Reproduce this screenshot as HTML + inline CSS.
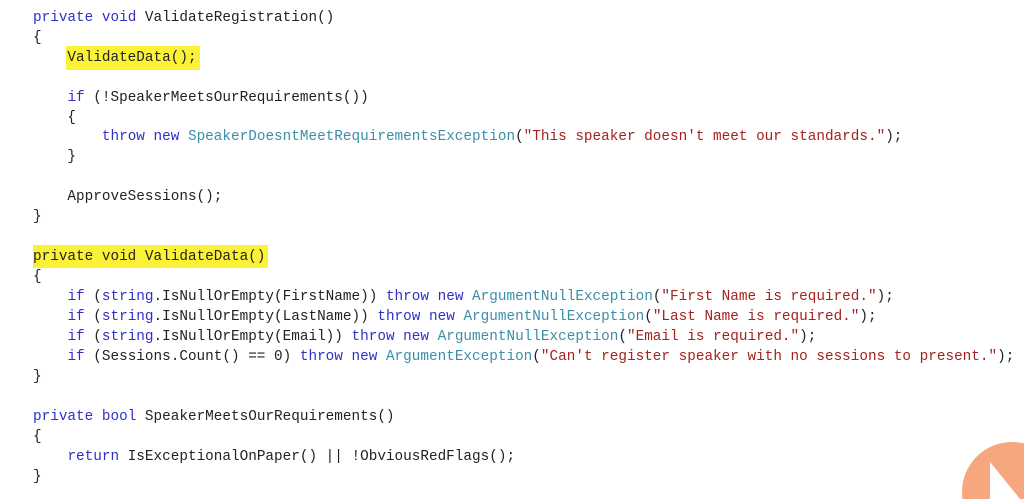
<!DOCTYPE html>
<html><head><meta charset="utf-8"><style>
html,body{margin:0;padding:0;background:#fff;width:1024px;height:499px;overflow:hidden}
#w{position:relative;width:1024px;height:499px;overflow:hidden}
.l{position:absolute;left:33px;height:20px;line-height:20px;font-family:"Liberation Mono",monospace;font-size:14.35px;color:#222;white-space:pre}
.k{color:#3030c8}.t{color:#3a8fa8}.s{color:#a3221e}
.hl{position:absolute;background:#fbf237}
</style></head><body><div id="w">
<div class="hl" style="left:66px;top:46px;width:134px;height:24px"></div>
<div class="hl" style="left:33px;top:245px;width:235px;height:23px"></div>
<div class="l" style="top:8px"><span class="k">private</span> <span class="k">void</span> ValidateRegistration()</div>
<div class="l" style="top:28px">{</div>
<div class="l" style="top:48px">    ValidateData();</div>
<div class="l" style="top:88px">    <span class="k">if</span> (!SpeakerMeetsOurRequirements())</div>
<div class="l" style="top:108px">    {</div>
<div class="l" style="top:127px">        <span class="k">throw</span> <span class="k">new</span> <span class="t">SpeakerDoesntMeetRequirementsException</span>(<span class="s">"This speaker doesn't meet our standards."</span>);</div>
<div class="l" style="top:147px">    }</div>
<div class="l" style="top:187px">    ApproveSessions();</div>
<div class="l" style="top:207px">}</div>
<div class="l" style="top:247px">private void ValidateData()</div>
<div class="l" style="top:267px">{</div>
<div class="l" style="top:287px">    <span class="k">if</span> (<span class="k">string</span>.IsNullOrEmpty(FirstName)) <span class="k">throw</span> <span class="k">new</span> <span class="t">ArgumentNullException</span>(<span class="s">"First Name is required."</span>);</div>
<div class="l" style="top:307px">    <span class="k">if</span> (<span class="k">string</span>.IsNullOrEmpty(LastName)) <span class="k">throw</span> <span class="k">new</span> <span class="t">ArgumentNullException</span>(<span class="s">"Last Name is required."</span>);</div>
<div class="l" style="top:327px">    <span class="k">if</span> (<span class="k">string</span>.IsNullOrEmpty(Email)) <span class="k">throw</span> <span class="k">new</span> <span class="t">ArgumentNullException</span>(<span class="s">"Email is required."</span>);</div>
<div class="l" style="top:347px">    <span class="k">if</span> (Sessions.Count() == 0) <span class="k">throw</span> <span class="k">new</span> <span class="t">ArgumentException</span>(<span class="s">"Can't register speaker with no sessions to present."</span>);</div>
<div class="l" style="top:367px">}</div>
<div class="l" style="top:407px"><span class="k">private</span> <span class="k">bool</span> SpeakerMeetsOurRequirements()</div>
<div class="l" style="top:427px">{</div>
<div class="l" style="top:447px">    <span class="k">return</span> IsExceptionalOnPaper() || !ObviousRedFlags();</div>
<div class="l" style="top:467px">}</div>
<svg style="position:absolute;left:0;top:0;display:block" width="1024" height="499">
<circle cx="1012" cy="492" r="50" fill="#f6a77f"/>
<polygon points="990,462 990,499 1020,499" fill="#fff"/>
</svg>
</div></body></html>
